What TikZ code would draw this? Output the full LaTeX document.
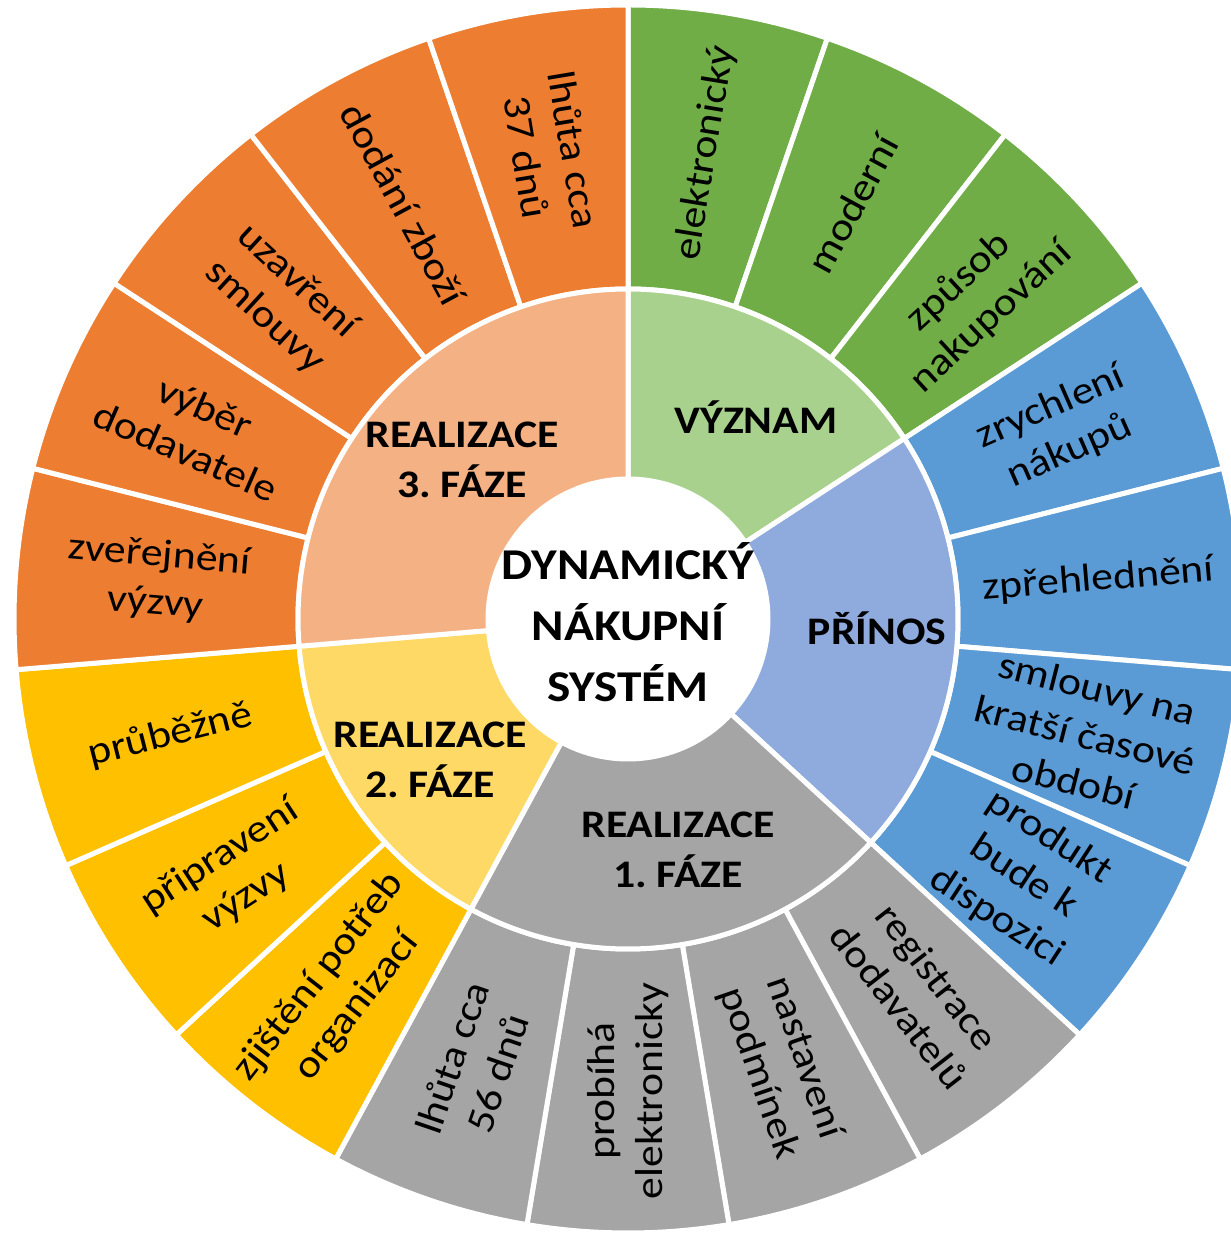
\documentclass[tikz,border=0pt]{standalone}
\usepackage{fontspec}
\setmainfont{Carlito}[FakeStretch=1.12]
\frenchspacing
\definecolor{zelena}{HTML}{70AD47}
\definecolor{zelenasv}{HTML}{A9D18E}
\definecolor{modra}{HTML}{5B9BD5}
\definecolor{modrasv}{HTML}{8FAADC}
\definecolor{seda}{HTML}{A5A5A5}
\definecolor{zluta}{HTML}{FFC000}
\definecolor{zlutasv}{HTML}{FFD966}
\definecolor{oranz}{HTML}{ED7D31}
\definecolor{oranzsv}{HTML}{F4B183}
\begin{document}
\begin{tikzpicture}[x=0.5pt, y=0.5pt,
		sector/.style = {draw=white, line width=2.5pt},
		leaf/.style = {font=\fontsize{19.5}{24}\selectfont, align=center, inner sep=0pt},
		group/.style = {font=\bfseries\fontsize{19.5}{25}\selectfont, align=center, inner sep=0pt},
		hub/.style = {font=\bfseries\fontsize{22}{30.5}\selectfont, align=center, inner sep=0pt}]
		\useasboundingbox (-628,-616) rectangle (602,619);
		\pgfmathsetmacro\s{360/19}
		% vnejsi kruh
		\foreach \i/\c/\t in {1/zelena/{elektronický}, 2/zelena/{moderní}, 3/zelena/{způsob\\nakupování},
			4/modra/{zrychlení\\nákupů}, 5/modra/{zpřehlednění}, 6/modra/{smlouvy na\\kratší časové\\období}, 7/modra/{produkt\\bude k\\dispozici},
			8/seda/{registrace\\dodavatelů}, 9/seda/{nastavení\\podmínek}, 10/seda/{probíhá\\elektronicky}, 11/seda/{lhůta cca\\56 dnů},
			12/zluta/{zjištění potřeb\\organizací}, 13/zluta/{připravení\\výzvy}, 14/zluta/{průběžně},
			15/oranz/{zveřejnění\\výzvy}, 16/oranz/{výběr\\dodavatele}, 17/oranz/{uzavření\\smlouvy}, 18/oranz/{dodání zboží}, 19/oranz/{lhůta cca\\37 dnů}} {
			\pgfmathsetmacro\a{90-(\i-1)*\s}
			\pgfmathsetmacro\b{90-\i*\s}
			\pgfmathsetmacro\m{90-(\i-0.5)*\s}
			\pgfmathsetmacro\r{\m>-89.5 ? \m : \m+180}
			\filldraw[sector, fill=\c] (\a:330) arc[start angle=\a, end angle=\b, radius=330]
				-- (\b:614) arc[start angle=\b, end angle=\a, radius=614] -- cycle;
			\node[leaf, rotate=\r] (leaf\i) at (\m:472) {\t};
		}
		% vnitrni kruh
		\foreach \i/\j/\c in {0/3/zelenasv, 3/7/modrasv, 7/11/seda, 11/14/zlutasv, 14/19/oranzsv} {
			\pgfmathsetmacro\a{90-\i*\s}
			\pgfmathsetmacro\b{90-\j*\s}
			\filldraw[sector, fill=\c] (\a:140) arc[start angle=\a, end angle=\b, radius=140]
				-- (\b:330) arc[start angle=\b, end angle=\a, radius=330] -- cycle;
		}
		\node[group] (vyznam) at (128,202) {VÝZNAM};
		\node[group] (prinos) at (249,-9) {PŘÍNOS};
		\node[group] (faze1) at (50,-231) {REALIZACE\\1. FÁZE};
		\node[group] (faze2) at (-198,-141) {REALIZACE\\2. FÁZE};
		\node[group] (faze3) at (-166,159) {REALIZACE\\3. FÁZE};
		\fill[white] (0,0) circle[radius=141];
		\node[hub] (dns) at (0,-3) {DYNAMICKÝ\\NÁKUPNÍ\\SYSTÉM};
	\end{tikzpicture}
\end{document}
